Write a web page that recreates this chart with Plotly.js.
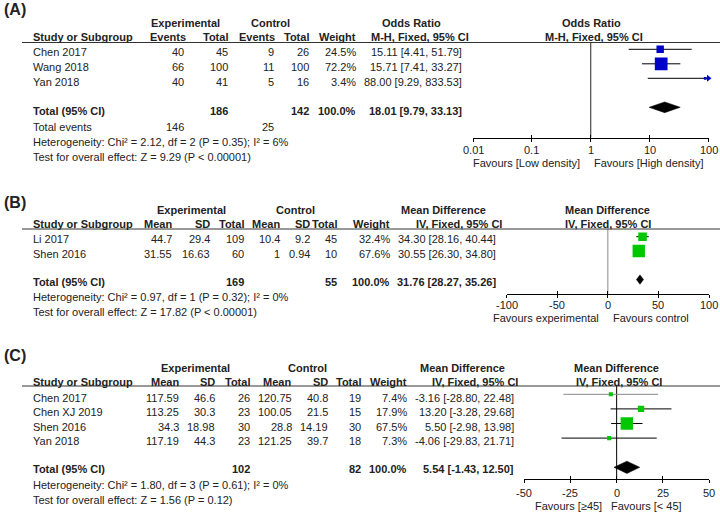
<!DOCTYPE html>
<html><head><meta charset="utf-8">
<script src="https://cdn.plot.ly/plotly-3.0.1.min.js"></script>
<style>html,body{margin:0;padding:0;background:#fff}</style>
</head><body><div id="chart" style="width:720px;height:512px"></div>
<script>
// ---------------- Panel A data ----------------
const studiesA = ["Chen 2017", "Wang 2018", "Yan 2018"];
const expEventsA = [40, 66, 40];
const expTotalA = [45, 100, 41];
const ctrlEventsA = [9, 11, 5];
const ctrlTotalA = [26, 100, 16];
const weightA = [24.5, 72.2, 3.4];
const estA = [15.11, 15.71, 88.00];
const loA = [4.41, 7.41, 9.29];
const hiA = [51.79, 33.27, 833.53];
const totalNA = [186, 142];
const totalWeightA = 100.0;
const totalEventsA = [146, 25];
const pooledA = [18.01, 9.79, 33.13];
const statsA = ["Heterogeneity: Chi² = 2.12, df = 2 (P = 0.35); I² = 6%", "Test for overall effect: Z = 9.29 (P < 0.00001)"];
const tickValsA = [0.01, 0.1, 1, 10, 100];
const tickTextA = ["0.01", "0.1", "1", "10", "100"];
const favoursA = ["Favours [Low density]", "Favours [High density]"];

// ---------------- Panel B data ----------------
const studiesB = ["Li 2017", "Shen 2016"];
const expMeanB = [44.7, 31.55];
const expSDB = [29.4, 16.63];
const expTotalB = [109, 60];
const ctrlMeanB = [10.4, 1];
const ctrlSDB = [9.2, 0.94];
const ctrlTotalB = [45, 10];
const weightB = [32.4, 67.6];
const estB = [34.30, 30.55];
const loB = [28.16, 26.30];
const hiB = [40.44, 34.80];
const totalNB = [169, 55];
const totalWeightB = 100.0;
const pooledB = [31.76, 28.27, 35.26];
const statsB = ["Heterogeneity: Chi² = 0.97, df = 1 (P = 0.32); I² = 0%", "Test for overall effect: Z = 17.82 (P < 0.00001)"];
const tickValsB = [-100, -50, 0, 50, 100];
const tickTextB = ["-100", "-50", "0", "50", "100"];
const favoursB = ["Favours experimental", "Favours control"];

// ---------------- Panel C data ----------------
const studiesC = ["Chen 2017", "Chen XJ 2019", "Shen 2016", "Yan 2018"];
const expMeanC = [117.59, 113.25, 34.3, 117.19];
const expSDC = [46.6, 30.3, 18.98, 44.3];
const expTotalC = [26, 23, 30, 23];
const ctrlMeanC = [120.75, 100.05, 28.8, 121.25];
const ctrlSDC = [40.8, 21.5, 14.19, 39.7];
const ctrlTotalC = [19, 15, 30, 18];
const weightC = [7.4, 17.9, 67.5, 7.3];
const estC = [-3.16, 13.20, 5.50, -4.06];
const loC = [-28.80, -3.28, -2.98, -29.83];
const hiC = [22.48, 29.68, 13.98, 21.71];
const totalNC = [102, 82];
const totalWeightC = 100.0;
const pooledC = [5.54, -1.43, 12.50];
const statsC = ["Heterogeneity: Chi² = 1.80, df = 3 (P = 0.61); I² = 0%", "Test for overall effect: Z = 1.56 (P = 0.12)"];
const tickValsC = [-50, -25, 0, 25, 50];
const tickTextC = ["-50", "-25", "0", "25", "50"];
const favoursC = ["Favours [≥45]", "Favours [< 45]"];

// ---------------- helpers ----------------
const W = 720, H = 512;
const FONT = "Liberation Sans, Arial, sans-serif";
const TXT = "#222";
const ann = [];
const shapes = [];
const traces = [];
const layout = {
  width: W, height: H, margin: {l: 0, r: 0, t: 0, b: 0},
  paper_bgcolor: "#fff", plot_bgcolor: "rgba(0,0,0,0)",
  showlegend: false, font: {family: FONT, size: 11, color: TXT},
  annotations: ann, shapes: shapes
};
function T(x, y, text, anchor, bold, size) {
  ann.push({xref: "paper", yref: "paper", x: x / W, y: 1 - y / H,
    text: bold ? "<b>" + text + "</b>" : text, xanchor: anchor || "left", yanchor: "middle",
    showarrow: false, borderpad: 0, font: {family: FONT, size: size || 11, color: TXT}});
}
function hline(y) {
  shapes.push({type: "line", xref: "paper", yref: "paper", x0: 22 / W, x1: 1, y0: 1 - y / H, y1: 1 - y / H,
    line: {color: "#333", width: 1}});
}
const ci = (e, l, h) => e.toFixed(2) + " [" + l.toFixed(2) + ", " + h.toFixed(2) + "]";
const pct = w => w.toFixed(1) + "%";

function forest(p) {
  const xa = "xaxis" + p.id, ya = "yaxis" + p.id, xo = "xaxis" + p.ovl;
  const xr = "x" + p.id, yr = "y" + p.id;
  const yBot = (p.pxBot - p.row0) / p.pitch, yTop = (p.pxTop - p.row0) / p.pitch;
  const axRange = p.log ? [Math.log10(p.ticks[0]), Math.log10(p.ticks[p.ticks.length - 1])] : [p.ticks[0], p.ticks[p.ticks.length - 1]];
  const base = {type: p.log ? "log" : "linear", range: axRange, autorange: false, showgrid: false, zeroline: false, fixedrange: true};
  layout[xa] = Object.assign({}, base, {domain: [p.pxL / W, p.pxR / W], anchor: yr,
    showline: true, linecolor: "#000", linewidth: 1, ticks: "outside", ticklen: 3, tickwidth: 1, tickcolor: "#000",
    tickvals: p.ticks, showticklabels: false});
  layout[xo] = Object.assign({}, base, {overlaying: xr, anchor: yr, showline: false, ticks: "inside", ticklen: 3,
    tickwidth: 1, tickcolor: "#000", tickvals: p.ticks, showticklabels: false});
  layout[ya] = {domain: [1 - p.pxBot / H, 1 - p.pxTop / H], range: [yBot, yTop], autorange: false, visible: false, fixedrange: true};
  // tick labels placed through the axis scale
  p.ticks.forEach((v, k) => {
    ann.push({xref: xr, yref: "paper", x: p.log ? Math.log10(v) : v, y: 1 - p.labelY / H, text: p.tickText[k],
      xanchor: "center", yanchor: "middle", showarrow: false, borderpad: 0, font: {family: FONT, size: 11, color: TXT}});
  });
  traces.push({type: "scatter", x: [], y: [], xaxis: "x" + p.ovl, yaxis: yr, hoverinfo: "skip"});
  // null line
  traces.push({type: "scatter", mode: "lines", x: [p.nullVal, p.nullVal], y: [yBot, yTop], xaxis: xr, yaxis: yr,
    line: {color: p.nullColor, width: 1}, hoverinfo: "skip"});
  const xmax = p.ticks[p.ticks.length - 1];
  p.est.forEach((e, i) => {
    traces.push({type: "scatter", mode: "markers", x: [e], y: [i], xaxis: xr, yaxis: yr,
      error_x: {type: "data", symmetric: false, array: [p.hi[i] - e], arrayminus: [e - p.lo[i]], width: 0, thickness: 1,
        color: (p.ciColors && p.ciColors[i]) || "#000"},
      marker: {symbol: "square", size: 1.5 * Math.sqrt(p.weight[i]), color: p.color, line: {width: 0}}, hoverinfo: "skip"});
    if (p.hi[i] > xmax) {
      traces.push({type: "scatter", mode: "markers", x: [xmax], y: [i], xaxis: xr, yaxis: yr, cliponaxis: false,
        marker: {symbol: "triangle-right", size: 6, color: p.color, line: {width: 0}}, hoverinfo: "skip"});
    }
  });
  const t = p.totalIdx, h = p.dh, [pe, pl, ph] = p.pooled;
  traces.push({type: "scatter", mode: "lines", fill: "toself", fillcolor: "#000",
    x: [pl, pe, ph, pe, pl], y: [t, t - h, t, t + h, t], xaxis: xr, yaxis: yr, line: {color: "#000", width: 0.5}, hoverinfo: "skip"});
}

// ---------------- Panel A ----------------
T(3, 9, "(A)", "left", true, 16);
T(185.8, 22.7, "Experimental", "center", true);
T(270, 22.7, "Control", "center", true);
T(411, 22.7, "Odds Ratio", "center", true);
T(591.7, 22.7, "Odds Ratio", "center", true);
T(32.3, 36.7, "Study or Subgroup", "left", true);
T(186.7, 36.7, "Events", "right", true);
T(229.3, 36.7, "Total", "right", true);
T(276, 36.7, "Events", "right", true);
T(310, 36.7, "Total", "right", true);
T(356.7, 36.7, "Weight", "right", true);
T(420, 36.7, "M-H, Fixed, 95% CI", "center", true);
T(594, 36.7, "M-H, Fixed, 95% CI", "center", true);
hline(42.5);
studiesA.forEach((s, i) => {
  const y = 51.7 + 15 * i;
  T(32.3, y, s, "left");
  T(185, y, String(expEventsA[i]), "right");
  T(229.3, y, String(expTotalA[i]), "right");
  T(275, y, String(ctrlEventsA[i]), "right");
  T(310, y, String(ctrlTotalA[i]), "right");
  T(356.7, y, pct(weightA[i]), "right");
  T(463.3, y, ci(estA[i], loA[i], hiA[i]), "right");
});
T(32.3, 111, "Total (95% CI)", "left", true);
T(229.3, 111, String(totalNA[0]), "right", true);
T(310, 111, String(totalNA[1]), "right", true);
T(356.7, 111, pct(totalWeightA), "right", true);
T(463.3, 111, ci(pooledA[0], pooledA[1], pooledA[2]), "right", true);
T(32.3, 126.7, "Total events", "left");
T(185, 126.7, String(totalEventsA[0]), "right");
T(275, 126.7, String(totalEventsA[1]), "right");
T(32.3, 141.7, statsA[0], "left");
T(32.3, 156.5, statsA[1], "left");
T(581, 162.5, favoursA[0], "right");
T(593, 162.5, favoursA[1], "left");
forest({id: "", ovl: "4", log: true, ticks: tickValsA, tickText: tickTextA, pxL: 473, pxR: 708.5, pxTop: 42.5, pxBot: 137.5,
  labelY: 149.5, row0: 49.3, pitch: 14.5, totalIdx: 4, dh: 0.37, nullVal: 1, nullColor: "#222", color: "rgb(0,0,200)",
  est: estA, lo: loA, hi: hiA, weight: weightA, pooled: pooledA});

// ---------------- Panel B ----------------
T(3, 202.3, "(B)", "left", true, 16);
T(191.7, 210, "Experimental", "center", true);
T(295.5, 210, "Control", "center", true);
T(443.8, 210, "Mean Difference", "center", true);
T(607.7, 210, "Mean Difference", "center", true);
T(32.3, 224, "Study or Subgroup", "left", true);
T(173.3, 224, "Mean", "right", true);
T(210.7, 224, "SD", "right", true);
T(245, 224, "Total", "right", true);
T(280.7, 224, "Mean", "right", true);
T(311, 224, "SD", "right", true);
T(338.3, 224, "Total", "right", true);
T(391, 224, "Weight", "right", true);
T(458.8, 224, "IV, Fixed, 95% CI", "center", true);
T(607.7, 224, "IV, Fixed, 95% CI", "center", true);
hline(229);
studiesB.forEach((s, i) => {
  const y = 239.3 + 15 * i;
  T(32.3, y, s, "left");
  T(173.3, y, String(expMeanB[i]), "right");
  T(210.7, y, String(expSDB[i]), "right");
  T(245, y, String(expTotalB[i]), "right");
  T(280.7, y, String(ctrlMeanB[i]), "right");
  T(311, y, String(ctrlSDB[i]), "right");
  T(338.3, y, String(ctrlTotalB[i]), "right");
  T(391, y, pct(weightB[i]), "right");
  T(496.7, y, ci(estB[i], loB[i], hiB[i]), "right");
});
T(32.3, 281.7, "Total (95% CI)", "left", true);
T(245, 281.7, String(totalNB[0]), "right", true);
T(338.3, 281.7, String(totalNB[1]), "right", true);
T(391, 281.7, pct(totalWeightB), "right", true);
T(496.7, 281.7, ci(pooledB[0], pooledB[1], pooledB[2]), "right", true);
T(32.3, 296.7, statsB[0], "left");
T(32.3, 311.7, statsB[1], "left");
T(600, 317.5, favoursB[0], "right");
T(612, 317.5, favoursB[1], "left");
forest({id: "2", ovl: "5", log: false, ticks: tickValsB, tickText: tickTextB, pxL: 506.7, pxR: 709, pxTop: 229, pxBot: 294.3,
  labelY: 304.5, row0: 236.7, pitch: 14.3, totalIdx: 3, dh: 0.33, nullVal: 0, nullColor: "#888", color: "rgb(0,200,0)",
  est: estB, lo: loB, hi: hiB, weight: weightB, pooled: pooledB});

// ---------------- Panel C ----------------
T(3, 355, "(C)", "left", true, 16);
T(195.3, 367.7, "Experimental", "center", true);
T(307.7, 367.7, "Control", "center", true);
T(462.3, 367.7, "Mean Difference", "center", true);
T(616.7, 367.7, "Mean Difference", "center", true);
T(32.3, 382.3, "Study or Subgroup", "left", true);
T(180, 382.3, "Mean", "right", true);
T(216, 382.3, "SD", "right", true);
T(250.7, 382.3, "Total", "right", true);
T(292, 382.3, "Mean", "right", true);
T(329, 382.3, "SD", "right", true);
T(362, 382.3, "Total", "right", true);
T(408.3, 382.3, "Weight", "right", true);
T(475.3, 382.3, "IV, Fixed, 95% CI", "center", true);
T(619, 382.3, "IV, Fixed, 95% CI", "center", true);
hline(386);
studiesC.forEach((s, i) => {
  const y = 397.7 + 14.45 * i;
  T(32.3, y, s, "left");
  T(180, y, String(expMeanC[i]), "right");
  T(216, y, String(expSDC[i]), "right");
  T(250.7, y, String(expTotalC[i]), "right");
  T(292.7, y, String(ctrlMeanC[i]), "right");
  T(329, y, String(ctrlSDC[i]), "right");
  T(362, y, String(ctrlTotalC[i]), "right");
  T(408.3, y, pct(weightC[i]), "right");
  T(515, y, ci(estC[i], loC[i], hiC[i]), "right");
});
T(32.3, 469.3, "Total (95% CI)", "left", true);
T(250.7, 469.3, String(totalNC[0]), "right", true);
T(362, 469.3, String(totalNC[1]), "right", true);
T(408.3, 469.3, pct(totalWeightC), "right", true);
T(515, 469.3, ci(pooledC[0], pooledC[1], pooledC[2]), "right", true);
T(32.3, 485, statsC[0], "left");
T(32.3, 500, statsC[1], "left");
T(603, 505.7, favoursC[0], "right");
T(610, 505.7, favoursC[1], "left");
forest({id: "3", ovl: "6", log: false, ticks: tickValsC, tickText: tickTextC, pxL: 524.3, pxR: 709, pxTop: 386, pxBot: 479,
  labelY: 493.3, row0: 394.3, pitch: 14.6, totalIdx: 5, dh: 0.42, nullVal: 0, nullColor: "#000", color: "rgb(0,200,0)",
  ciColors: ["#888", "#000", "#000", "#000"],
  est: estC, lo: loC, hi: hiC, weight: weightC, pooled: pooledC});

Plotly.newPlot("chart", traces, layout, {displayModeBar: false, staticPlot: true});
</script></body></html>
